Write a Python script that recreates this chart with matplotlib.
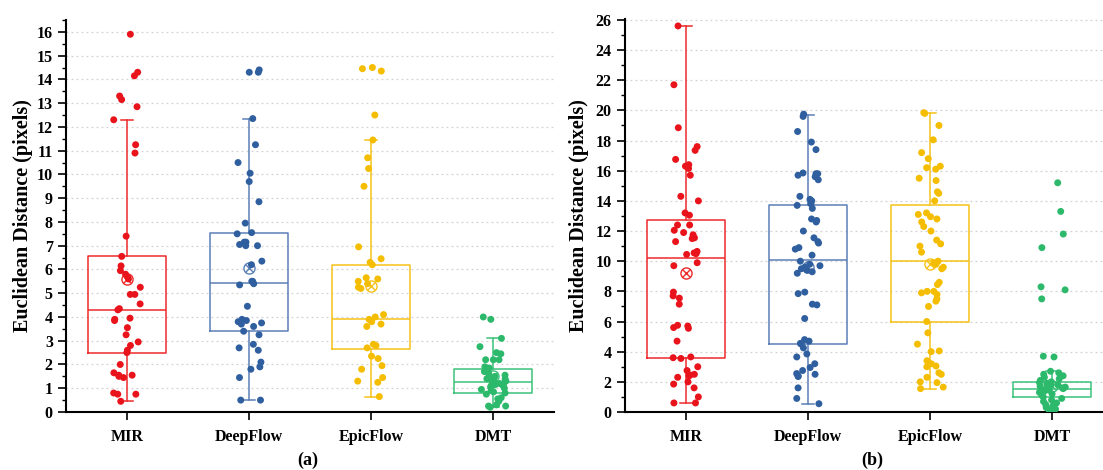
import numpy as np
import matplotlib.pyplot as plt
from matplotlib.ticker import MultipleLocator

# ---- data ----
methods = ["MIR", "DeepFlow", "EpicFlow", "DMT"]
colors = ["#E8131B", "#2F5F9E", "#F5BD00", "#2DB96B"]
box_colors = ["#EE2A2A", "#5B80B6", "#F6C21A", "#3CC27A"]

# panel (a)
mir_a = [15.9, 14.3, 14.15, 13.3, 13.15, 12.85, 12.3, 11.25, 10.9, 7.4, 6.55, 6.15, 5.95, 5.8,
         5.7, 5.6, 5.25, 4.95, 4.95, 4.55, 4.35, 4.3, 3.95, 3.9, 3.85, 3.55, 3.25, 2.95, 2.8,
         2.6, 2.5, 2.0, 1.65, 1.55, 1.55, 1.5, 1.45, 0.8, 0.75, 0.75, 0.45]
deep_a = [14.4, 14.3, 14.3, 12.35, 11.25, 10.5, 10.05, 9.7, 8.85, 7.95, 7.55, 7.5, 7.15, 7.15,
          7.05, 7.0, 7.0, 6.35, 6.2, 5.5, 5.5, 5.4, 5.35, 4.45, 3.9, 3.85, 3.8, 3.75, 3.7, 3.6,
          3.4, 3.25, 2.85, 2.7, 2.6, 2.1, 1.9, 1.8, 1.45, 0.5, 0.5]
epic_a = [14.5, 14.45, 14.35, 12.5, 11.45, 10.7, 10.25, 9.5, 6.95, 6.45, 6.3, 6.2, 5.65, 5.6,
          5.5, 5.4, 5.25, 5.2, 4.1, 4.0, 3.9, 3.8, 3.7, 3.6, 2.85, 2.8, 2.7, 2.35, 2.25, 1.95,
          1.8, 1.45, 1.3, 1.25, 0.65]
dmt_a = [4.0, 3.9, 3.1, 2.75, 2.5, 2.45, 2.2, 2.2, 2.2, 1.9, 1.85, 1.7, 1.6, 1.55, 1.5, 1.45,
         1.4, 1.4, 1.35, 1.3, 1.3, 1.25, 1.2, 1.2, 1.15, 1.1, 1.1, 1.05, 1.0, 0.95, 0.9, 0.85,
         0.8, 0.75, 0.6, 0.55, 0.45, 0.3, 0.25, 0.25, 0.2]

# panel (b)
mir_b = [25.6, 21.7, 18.85, 17.6, 17.35, 16.75, 16.4, 16.3, 16.15, 15.7, 14.3, 14.0, 13.2,
         13.05, 12.4, 12.4, 12.05, 11.9, 11.75, 11.55, 11.5, 11.3, 10.65, 10.55, 10.5, 10.45,
         9.9, 9.7, 7.95, 7.7, 7.55, 7.15, 5.75, 5.7, 5.6, 5.55, 4.7, 3.65, 3.6, 3.55, 3.0,
         2.75, 2.5, 2.45, 2.4, 2.3, 2.0, 1.85, 1.6, 1.0, 0.6, 0.6]
deep_b = [19.75, 19.6, 18.6, 17.9, 17.4, 15.85, 15.8, 15.8, 15.7, 15.6, 15.4, 14.3, 14.1, 14.0,
          13.8, 13.7, 13.5, 12.8, 12.7, 12.6, 12.0, 11.55, 11.3, 11.2, 10.9, 10.8, 10.4, 10.0,
          9.8, 9.7, 9.6, 9.5, 9.4, 9.3, 9.2, 7.95, 7.85, 7.15, 7.1, 6.2, 4.8, 4.7, 4.55, 4.5,
          4.25, 3.85, 3.65, 3.2, 2.95, 2.75, 2.55, 2.5, 2.4, 2.35, 1.6, 0.9, 0.55]
epic_b = [19.85, 19.8, 19.0, 18.05, 17.2, 16.8, 16.3, 16.2, 16.1, 15.5, 15.35, 14.6, 14.5,
          14.0, 13.2, 13.1, 12.95, 12.8, 12.6, 12.3, 12.0, 11.4, 11.15, 11.0, 10.6, 10.0, 9.9,
          9.8, 9.6, 9.5, 8.6, 8.45, 8.0, 8.0, 7.9, 7.8, 7.5, 7.35, 7.0, 6.0, 5.25, 4.5, 4.05,
          4.0, 3.4, 3.2, 3.05, 3.0, 2.6, 2.5, 2.3, 2.0, 1.95, 1.65, 1.55]
dmt_b = [15.2, 13.3, 11.8, 10.9, 8.3, 8.1, 7.5, 3.7, 3.65, 2.7, 2.6, 2.5, 2.4, 2.3, 2.2, 2.1,
         2.0, 1.95, 1.9, 1.85, 1.8, 1.75, 1.7, 1.65, 1.6, 1.55, 1.5, 1.45, 1.4, 1.35, 1.3, 1.2,
         1.1, 1.0, 0.9, 0.8, 0.7, 0.6, 0.5, 0.4, 0.3, 0.25, 0.2, 0.15, 0.1]

# box statistics as drawn: q1, median, q3, mean, whisker low, whisker high
q1_a = [2.5, 3.4, 2.65, 0.82]
med_a = [4.3, 5.45, 3.9, 1.25]
q3_a = [6.55, 7.55, 6.2, 1.8]
mean_a = [5.6, 6.05, 5.3, 1.5]
wlo_a = [0.45, 0.5, 0.65, 0.2]
whi_a = [12.3, 12.35, 11.45, 3.1]

q1_b = [3.6, 4.5, 6.0, 1.0]
med_b = [10.2, 10.1, 10.0, 1.5]
q3_b = [12.75, 13.75, 13.7, 2.0]
mean_b = [9.25, 9.6, 9.8, 1.7]
wlo_b = [0.6, 0.55, 1.55, 0.1]
whi_b = [25.6, 19.7, 19.85, 2.7]

plt.rcParams['font.family'] = ['Liberation Serif', 'DejaVu Serif']
plt.rcParams['font.weight'] = 'bold'

fig = plt.figure(figsize=(11.03, 4.70), dpi=100)
W, H = 1103, 470
ax_a = fig.add_axes([66 / W, 1 - 412 / H, 488 / W, 392 / H])
ax_b = fig.add_axes([625 / W, 1 - 412 / H, 488 / W, 393 / H])

rng = np.random.default_rng(7)
pos = np.arange(4) + 0.5


def draw(ax, groups, q1, med, q3, mean, wlo, whi, ymax, major, minor):
    for i in range(4):
        st = dict(q1=q1[i], med=med[i], q3=q3[i], mean=mean[i], whislo=wlo[i], whishi=whi[i],
                  fliers=[])
        c = box_colors[i]
        ax.bxp([st], positions=[pos[i]], widths=0.64, capwidths=0.1, showmeans=True,
               showfliers=False,
               boxprops=dict(color=c, lw=1.1), medianprops=dict(color=c, lw=1.1),
               whiskerprops=dict(color=c, lw=1.1), capprops=dict(color=c, lw=1.1),
               meanprops=dict(marker='o', mfc='none', mec=c, ms=8, mew=1.0))
        ax.plot(pos[i], mean[i], marker='x', color=c, ms=5.5, mew=1.0, zorder=3)
        vals = np.array(groups[i])
        jit = rng.uniform(-0.11, 0.11, len(vals))
        ax.scatter(pos[i] + jit, vals, s=25, color=colors[i], edgecolors='none', zorder=4)

    ax.set_xlim(0, 4)
    ax.set_ylim(0, ymax)
    ax.set_xticks(pos)
    ax.set_xticklabels(methods, fontsize=11.5, fontweight='bold')
    ax.yaxis.set_major_locator(MultipleLocator(major))
    ax.yaxis.set_minor_locator(MultipleLocator(minor))
    ax.tick_params(axis='y', which='major', length=6, width=1.2, labelsize=11.5, direction='out')
    ax.tick_params(axis='y', which='minor', length=3, width=1.0, direction='out')
    ax.tick_params(axis='x', length=6, width=1.2, pad=6)
    for lab in ax.get_yticklabels():
        lab.set_fontweight('bold')
    for s in ['top', 'right']:
        ax.spines[s].set_visible(False)
    for s in ['left', 'bottom']:
        ax.spines[s].set_linewidth(1.5)
    # dotted horizontal grid at major ticks (not at zero)
    for t in np.arange(major, ymax + 1e-6, major):
        ax.axhline(t, color='#d2d2d2', lw=0.9, ls=(0, (1.5, 2.5)), zorder=0)
    ax.set_ylabel('Euclidean Distance (pixels)', fontsize=14.5, fontweight='bold')


draw(ax_a, [mir_a, deep_a, epic_a, dmt_a], q1_a, med_a, q3_a, mean_a, wlo_a, whi_a, 16.5, 1, 0.5)
draw(ax_b, [mir_b, deep_b, epic_b, dmt_b], q1_b, med_b, q3_b, mean_b, wlo_b, whi_b, 26.06, 2, 1)
ax_a.yaxis.set_label_coords(-0.068, 0.5)
ax_b.yaxis.set_label_coords(-0.074, 0.5)

fig.text(308 / W, 1 - 460 / H, '(a)', fontsize=13, fontweight='bold', ha='center', va='center')
fig.text(872 / W, 1 - 460 / H, '(b)', fontsize=13, fontweight='bold', ha='center', va='center')

fig.savefig('out.png', dpi=100)
